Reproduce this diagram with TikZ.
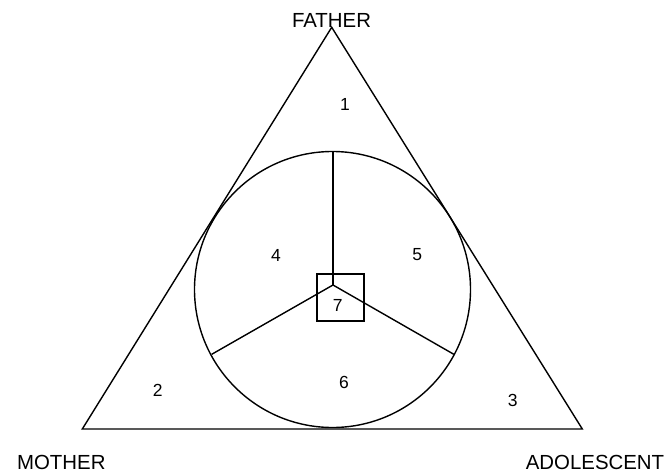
\documentclass[tikz,border=0pt]{standalone}
\usepackage{fontspec}
\setmainfont{Liberation Sans}
\begin{document}
\begin{tikzpicture}[x=1pt,y=-1pt,
  ln/.style={line width=1.4pt, black},
  lbl/.style={font=\fontsize{20.4}{23}\selectfont, inner sep=0pt},
  num/.style={font=\fontsize{17.5}{20}\selectfont, inner sep=0pt}]
\useasboundingbox (0,0) rectangle (668,473);
% triangle vertices
\coordinate (F) at (331.7,27.3);
\coordinate (M) at (82.3,429);
\coordinate (A) at (582.3,429);
\draw[ln, line join=miter] (F) -- (M) -- (A) -- cycle;
% circle
\coordinate (C) at (332.5,289.5);
\draw[ln] (C) circle[radius=138];
% spokes
\coordinate (S) at (333,285);
\coordinate (ST) at (333,151.5);
\coordinate (SL) at (211.7,354.3);
\coordinate (SR) at (453.8,354.3);
\draw[ln] (S) -- (ST);
\draw[ln] (S) -- (SL);
\draw[ln] (S) -- (SR);
% square
\node[ln, draw, minimum size=47pt, inner sep=0pt] (sq) at (340.5,297.5) {};
% labels
\node[lbl] (father) at (331.5,20) {FATHER};
\node[lbl] (mother) at (61.3,462.3) {MOTHER};
\node[lbl] (adol) at (595,462.3) {ADOLESCENT};
% numbers
\node[num] (n1) at (345,104) {1};
\node[num] (n2) at (157.7,390) {2};
\node[num] (n3) at (512.7,400) {3};
\node[num] (n4) at (276,255) {4};
\node[num] (n5) at (417.3,255) {5};
\node[num] (n6) at (344,382) {6};
\node[num] (n7) at (337.7,305.7) {7};
\end{tikzpicture}
\end{document}
